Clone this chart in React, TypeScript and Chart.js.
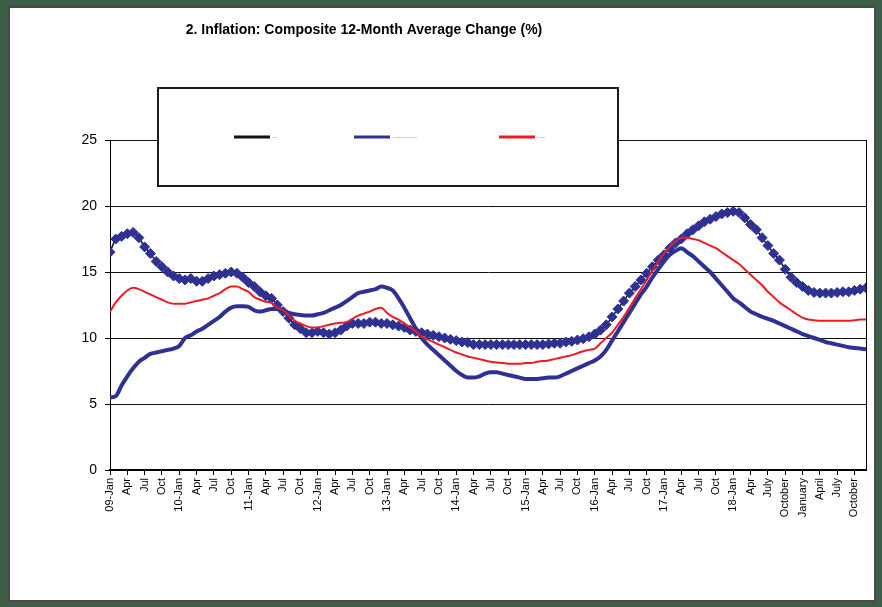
import React, { useEffect, useRef } from 'react';
import { Chart, registerables } from 'chart.js';

Chart.register(...registerables);

const TITLE = '2. Inflation: Composite 12-Month Average Change (%)';

const years = [2009, 2010, 2011, 2012, 2013, 2014, 2015, 2016, 2017, 2018, 2019];
const monthNames = ['Jan', 'Feb', 'Mar', 'Apr', 'May', 'Jun', 'Jul', 'Aug', 'Sep', 'Oct', 'Nov', 'Dec'];
const months = years.flatMap((y) => monthNames.map((m) => `${m} ${y}`));

const tickLabels = [
  '09-Jan', 'Apr', 'Jul', 'Oct',
  '10-Jan', 'Apr', 'Jul', 'Oct',
  '11-Jan', 'Apr', 'Jul', 'Oct',
  '12-Jan', 'Apr', 'Jul', 'Oct',
  '13-Jan', 'Apr', 'Jul', 'Oct',
  '14-Jan', 'Apr', 'Jul', 'Oct',
  '15-Jan', 'Apr', 'Jul', 'Oct',
  '16-Jan', 'Apr', 'Jul', 'Oct',
  '17-Jan', 'Apr', 'Jul', 'Oct',
  '18-Jan', 'Apr', 'July', 'October',
  'January', 'April', 'July', 'October',
];

const seriesNames = ['Food', 'All Items less Farm Produce', 'All Items'];

const food = [
  16.5, 17.5, 17.7, 17.9, 18.0, 17.6, 16.9, 16.4, 15.8, 15.4, 15.0, 14.7,
  14.5, 14.4, 14.5, 14.3, 14.3, 14.5, 14.7, 14.8, 14.9, 15.0, 14.9, 14.6,
  14.2, 13.9, 13.5, 13.2, 13.0, 12.5, 12.0, 11.5, 11.0, 10.7, 10.4, 10.4,
  10.5, 10.4, 10.3, 10.4, 10.6, 10.9, 11.1, 11.1, 11.1, 11.2, 11.2, 11.1,
  11.1, 11.0, 10.9, 10.8, 10.6, 10.5, 10.4, 10.3, 10.2, 10.1, 10.0, 9.9,
  9.8, 9.7, 9.65, 9.5, 9.5, 9.5, 9.5, 9.5, 9.5, 9.5, 9.5, 9.5,
  9.5, 9.5, 9.5, 9.5, 9.55, 9.6, 9.6, 9.7, 9.75, 9.85, 9.95, 10.1,
  10.3, 10.6, 11.0, 11.6, 12.2, 12.8, 13.4, 13.9, 14.4, 14.9, 15.4, 15.9,
  16.3, 16.8, 17.2, 17.5, 17.9, 18.2, 18.5, 18.8, 19.0, 19.2, 19.4, 19.5,
  19.6, 19.5, 19.1, 18.6, 18.2, 17.6, 17.0, 16.4, 15.9, 15.2, 14.6, 14.2,
  13.9, 13.6, 13.45, 13.4, 13.4, 13.4, 13.45, 13.5, 13.5, 13.6, 13.7, 13.8,
];

const core = [
  5.5, 5.6, 6.4, 7.1, 7.7, 8.2, 8.5, 8.8, 8.9, 9.0, 9.1, 9.2,
  9.4, 10.0, 10.2, 10.5, 10.7, 11.0, 11.3, 11.6, 12.0, 12.3, 12.4, 12.4,
  12.35, 12.1, 12.0, 12.1, 12.2, 12.2, 12.1, 11.9, 11.8, 11.75, 11.7, 11.7,
  11.8, 11.9, 12.1, 12.3, 12.5, 12.8, 13.1, 13.4, 13.5, 13.6, 13.7, 13.9,
  13.8, 13.6, 13.0, 12.3, 11.5, 10.7, 10.0, 9.5, 9.1, 8.7, 8.3, 7.9,
  7.5, 7.2, 7.0, 7.0, 7.1, 7.3, 7.4, 7.4, 7.3, 7.2, 7.1, 7.0,
  6.9, 6.9, 6.9, 6.95, 7.0, 7.0, 7.1, 7.3, 7.5, 7.7, 7.9, 8.1,
  8.3, 8.6, 9.1, 9.8, 10.5, 11.2, 11.9, 12.6, 13.3, 13.9, 14.6, 15.2,
  15.8, 16.3, 16.6, 16.8, 16.5, 16.2, 15.8, 15.4, 15.0, 14.5, 14.0, 13.5,
  13.0, 12.7, 12.35, 12.0, 11.8, 11.6, 11.45, 11.3, 11.1, 10.9, 10.7, 10.5,
  10.3, 10.15, 10.0, 9.85, 9.7, 9.6, 9.5, 9.4, 9.3, 9.25, 9.2, 9.15,
];

const headline = [
  12.0, 12.7, 13.2, 13.6, 13.8, 13.7, 13.5, 13.3, 13.1, 12.9, 12.7, 12.6,
  12.6, 12.6, 12.7, 12.8, 12.9, 13.0, 13.2, 13.4, 13.7, 13.9, 13.9, 13.7,
  13.5, 13.1, 12.9, 12.75, 12.65, 12.3, 12.1, 11.7, 11.3, 11.1, 10.9, 10.8,
  10.8, 10.9, 11.0, 11.1, 11.15, 11.2, 11.45, 11.7, 11.85, 12.0, 12.2, 12.3,
  11.9, 11.6, 11.4, 11.1, 10.8, 10.5, 10.1, 9.9, 9.7, 9.5, 9.3, 9.1,
  8.9, 8.75, 8.6, 8.5, 8.4, 8.3, 8.2, 8.15, 8.1, 8.05, 8.05, 8.05,
  8.1, 8.1, 8.2, 8.25, 8.3, 8.4, 8.5, 8.6, 8.7, 8.85, 9.0, 9.1,
  9.2, 9.6, 10.0, 10.4, 11.0, 11.6, 12.3, 13.0, 13.7, 14.4, 15.1, 15.8,
  16.4, 16.9, 17.3, 17.6, 17.6, 17.5, 17.4, 17.2, 17.0, 16.8, 16.5, 16.2,
  15.9, 15.6, 15.2, 14.8, 14.4, 14.0, 13.5, 13.1, 12.7, 12.4, 12.1, 11.8,
  11.55, 11.4, 11.35, 11.3, 11.3, 11.3, 11.3, 11.3, 11.3, 11.35, 11.4, 11.4,
];

const yTicks = [0, 5, 10, 15, 20, 25];

const FONT = '"Liberation Sans", Arial, Helvetica, sans-serif';
const NAVY = '#2e3192';
const RED = '#ed1c24';

const toPoints = (arr: number[]) => arr.map((v, i) => ({ x: i, y: v }));

const decorPlugin = {
  id: 'decor',
  afterDraw(chart: any) {
    const { ctx, chartArea } = chart;
    ctx.save();
    // right border of plot area
    ctx.strokeStyle = '#000';
    ctx.lineWidth = 1;
    ctx.beginPath();
    ctx.moveTo(Math.round(chartArea.right) + 0.5, chartArea.top);
    ctx.lineTo(Math.round(chartArea.right) + 0.5, chartArea.bottom);
    ctx.stroke();

    // title
    ctx.fillStyle = '#000';
    ctx.font = `bold 14px ${FONT}`;
    ctx.textAlign = 'center';
    ctx.textBaseline = 'middle';
    ctx.fillText(TITLE, 364, 30);

    // legend box
    ctx.fillStyle = '#fff';
    ctx.fillRect(158, 88, 460, 98);
    ctx.strokeStyle = '#1a1a1a';
    ctx.lineWidth = 2;
    ctx.strokeRect(158, 88, 460, 98);

    const entryX = [234, 354, 499];
    const ds = chart.data.datasets;
    const legendOrder = [0, 1, 2];
    legendOrder.forEach((di, k) => {
      const d = ds[di];
      const x0 = entryX[k];
      ctx.strokeStyle = d.borderColor;
      ctx.lineWidth = 3;
      ctx.beginPath();
      ctx.moveTo(x0, 137);
      ctx.lineTo(x0 + 36, 137);
      ctx.stroke();
      ctx.fillStyle = '#777';
      ctx.font = `2px ${FONT}`;
      ctx.textAlign = 'left';
      ctx.textBaseline = 'middle';
      ctx.fillText(d.label, x0 + 38, 137);
    });
    ctx.restore();
  },
};

export default function App() {
  const canvasRef = useRef<HTMLCanvasElement | null>(null);

  useEffect(() => {
    const canvas = canvasRef.current;
    if (!canvas) return;
    const chart = new Chart(canvas, {
      type: 'line',
      data: {
        labels: months,
        datasets: [
          {
            label: seriesNames[0],
            data: toPoints(food),
            borderColor: '#111',
            borderWidth: 1.5,
            pointStyle: 'rectRot',
            pointRadius: 5,
            pointBorderWidth: 1,
            pointBackgroundColor: NAVY,
            pointBorderColor: NAVY,
            order: 3,
            cubicInterpolationMode: 'monotone',
          },
          {
            label: seriesNames[1],
            data: toPoints(core),
            borderColor: NAVY,
            borderWidth: 4,
            pointRadius: 0,
            order: 2,
            cubicInterpolationMode: 'monotone',
          },
          {
            label: seriesNames[2],
            data: toPoints(headline),
            borderColor: RED,
            borderWidth: 2,
            pointRadius: 0,
            order: 1,
            cubicInterpolationMode: 'monotone',
          },
        ],
      },
      options: {
        responsive: false,
        animation: false,
        devicePixelRatio: 1,
        layout: { padding: { left: 70, top: 140, right: 16, bottom: 77 } },
        plugins: {
          legend: { display: false },
          title: { display: false },
          tooltip: { enabled: false },
        },
        scales: {
          x: {
            type: 'linear',
            min: 0,
            max: months.length - 1,
            afterBuildTicks: (scale: any) => {
              scale.ticks = tickLabels.map((_, k) => ({ value: k * 3 }));
            },
            afterFit: (scale: any) => {
              scale.height = 60;
            },
            ticks: {
              autoSkip: false,
              minRotation: 90,
              maxRotation: 90,
              color: '#000',
              padding: 3,
              font: { family: FONT, size: 11 },
              callback: (value: any) => tickLabels[Math.round(Number(value) / 3)] ?? '',
            },
            grid: {
              drawOnChartArea: false,
              drawTicks: true,
              tickLength: 5,
              tickColor: '#000',
            },
            border: { color: '#000', width: 2 },
          },
          y: {
            min: 0,
            max: 25,
            afterBuildTicks: (scale: any) => {
              scale.ticks = yTicks.map((v) => ({ value: v }));
            },
            afterFit: (scale: any) => {
              scale.width = 40;
            },
            ticks: {
              color: '#000',
              padding: 8,
              font: { family: FONT, size: 14 },
            },
            grid: {
              color: '#111',
              lineWidth: 1,
              tickLength: 5,
              tickColor: '#000',
            },
            border: { color: '#000', width: 1 },
          },
        },
      },
      plugins: [decorPlugin],
    } as any);
    return () => chart.destroy();
  }, []);

  return (
    <div style={{ position: 'absolute', left: 0, top: 0, width: 882, height: 607, background: '#3d5e48' }}>
      <div
        style={{
          position: 'absolute',
          left: 8,
          top: 6,
          width: 868,
          height: 596,
          background: '#fff',
          border: '2px solid #4a4a4a',
          boxSizing: 'border-box',
        }}
      />
      <canvas
        ref={canvasRef}
        width={882}
        height={607}
        style={{ position: 'absolute', left: 0, top: 0, width: 882, height: 607 }}
      />
    </div>
  );
}
